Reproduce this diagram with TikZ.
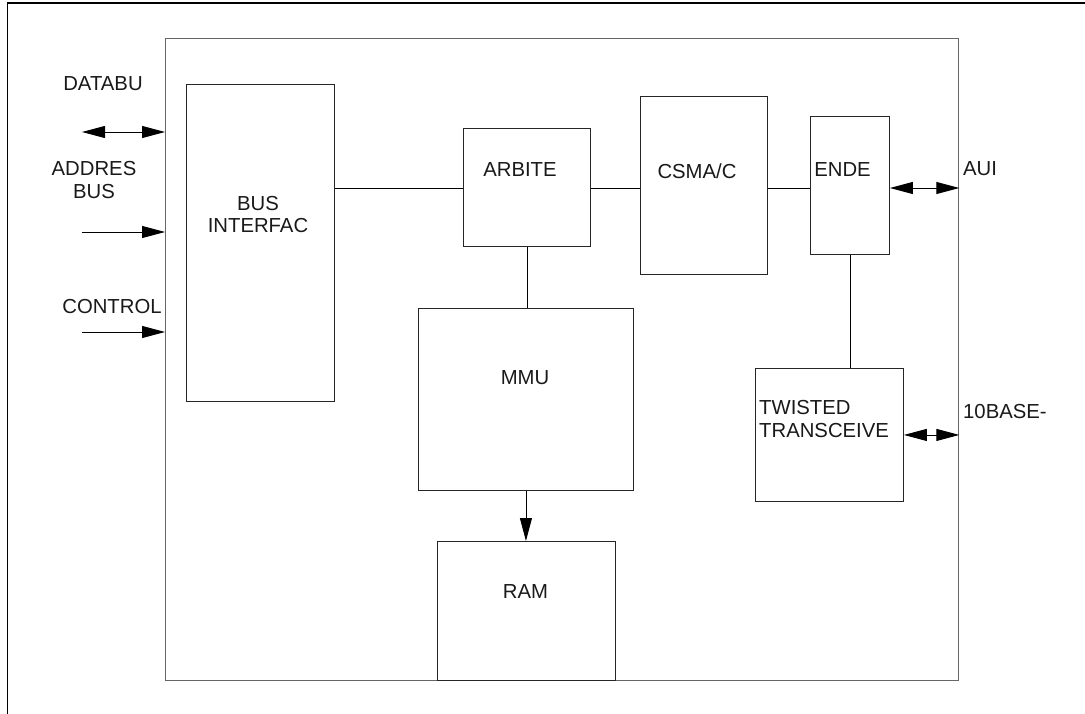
\documentclass[tikz,border=0pt]{standalone}
\usepackage{fontspec}
\setmainfont{Liberation Sans}
\usetikzlibrary{arrows.meta}
\begin{document}
\begin{tikzpicture}[x=1pt,y=-1pt,
  blk/.style={draw=black!85, line width=0.9pt, rectangle, anchor=north west, inner sep=0pt},
  lbl/.style={inner sep=0pt, font=\fontsize{20.3}{22.5}\selectfont, text=black!90, align=center},
  wire/.style={line width=0.9pt, black},
  tip/.style={-{Triangle[length=23pt,width=12pt]}},
  dtip/.style={{Triangle[length=23pt,width=12pt]}-{Triangle[length=23pt,width=12pt]}}]
\useasboundingbox (0,0) rectangle (1085,714);
% outer border (top and left only)
\draw[line width=1.8pt, black] (1085,3) -- (7.5,3) -- (7.5,714);
% inner frame
\node[blk, draw=black!60, line width=1.3pt, minimum width=793pt, minimum height=642pt] (frame) at (165,38) {};
% blocks
\node[blk, minimum width=148pt, minimum height=317pt] (bus) at (186,84) {};
\node[blk, minimum width=127pt, minimum height=118pt] (arb) at (463,128) {};
\node[blk, minimum width=127pt, minimum height=178pt] (csma) at (640,96) {};
\node[blk, minimum width=79pt, minimum height=138pt] (ende) at (810,116) {};
\node[blk, minimum width=215pt, minimum height=182pt] (mmu) at (418,308) {};
\node[blk, minimum width=178pt, minimum height=139pt] (ram) at (437,541) {};
\node[blk, minimum width=148pt, minimum height=133pt] (tw) at (755,368) {};
% labels in blocks
\node[lbl] (busl) at (258,214.5) {BUS\\INTERFAC};
\node[lbl] (arbl) at (520,169.5) {ARBITE};
\node[lbl] (csmal) at (697,171) {CSMA/C};
\node[lbl] (endel) at (842.5,169.5) {ENDE};
\node[lbl] (mmul) at (525,378) {MMU};
\node[lbl] (raml) at (525.5,592) {RAM};
\node[lbl, align=left, anchor=west] (twl) at (759,419) {TWISTED\\TRANSCEIVE};
% outside labels
\node[lbl] (datal) at (103,84) {DATABU};
\node[lbl] (addrl) at (94,180) {ADDRES\\BUS};
\node[lbl] (ctrll) at (112,306.5) {CONTROL};
\node[lbl, anchor=west] (auil) at (963,168.5) {AUI};
\node[lbl, anchor=west] (basel) at (963,412) {10BASE-};
% connectors
\coordinate (lvl) at (0,188);
\draw[wire] (bus.east |- lvl) -- (arb.west |- lvl);
\draw[wire] (arb.east |- lvl) -- (csma.west |- lvl);
\draw[wire] (csma.east |- lvl) -- (ende.west |- lvl);
\draw[wire] (arb.south) -- (arb.south |- mmu.north);
\draw[wire, tip] (mmu.south) -- (mmu.south |- ram.north);
\draw[wire] (ende.south) -- (ende.south |- tw.north);
\draw[wire, dtip] (ende.east |- lvl) -- (frame.east |- lvl);
\draw[wire, dtip] (tw.east) -- (tw.east -| frame.east);
\coordinate (d0) at (82,132);
\coordinate (a0) at (82,232);
\coordinate (c0) at (82,332);
\draw[wire, dtip] (d0) -- (d0 -| frame.west);
\draw[wire, tip] (a0) -- (a0 -| frame.west);
\draw[wire, tip] (c0) -- (c0 -| frame.west);
\end{tikzpicture}
\end{document}
